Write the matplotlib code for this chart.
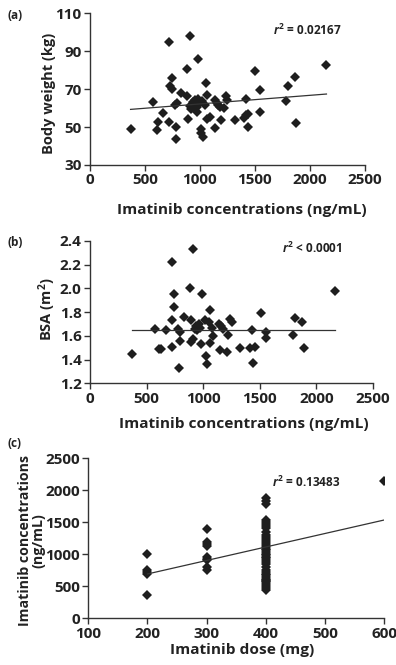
import numpy as np
import matplotlib
matplotlib.use("Agg")
import matplotlib.pyplot as plt

plt.rcParams['font.family'] = ['Open Sans', 'DejaVu Sans']
plt.rcParams['mathtext.fontset'] = 'custom'
plt.rcParams['mathtext.it'] = 'Open Sans:italic:bold'
plt.rcParams['mathtext.rm'] = 'Open Sans:bold'
plt.rcParams['mathtext.bf'] = 'Open Sans:bold'

# ---------------- data ----------------
conc_a = [370, 570, 667, 621, 606, 721, 743, 727, 743, 721, 782, 782, 773, 788, 827,
          879, 909, 985, 879, 888, 1055, 909, 918, 939, 955, 970, 985, 1000, 976, 1024,
          1067, 1045, 1015, 1015, 1030, 1067, 1091, 1136, 1152, 1167, 1182, 1218, 1236,
          1248, 1136, 1197, 1318, 1418, 1400, 1424, 1440, 1439, 1500, 1545, 1545, 1782,
          1803, 1864, 1879, 2152]
weight_a = [48.8, 63.4, 57.3, 52.5, 48.4, 94.9, 75.7, 71.7, 70.3, 52.8, 50.2, 43.7, 61.6,
            62.9, 68.1, 80.8, 98.0, 85.7, 66.4, 54.1, 73.1, 61.1, 59.4, 63.4, 64.3, 60.4,
            64.8, 63.4, 58.1, 63.9, 66.9, 61.6, 48.8, 46.7, 44.6, 54.1, 55.5, 64.3, 62.5,
            61.6, 60.4, 59.9, 66.4, 64.3, 49.7, 53.7, 53.7, 64.8, 54.8, 56.4, 57.0, 50.2,
            79.7, 69.5, 58.0, 63.9, 71.6, 76.5, 51.9, 82.5]

conc_b = [368, 574, 612, 626, 671, 721, 726, 729, 741, 744, 779, 794, 794, 788, 829,
          882, 891, 897, 906, 912, 930, 940, 950, 960, 970, 979, 988, 1015, 1021, 1035,
          1050, 1059, 1059, 1079, 1091, 1141, 1147, 1162, 1176, 1221, 1215, 1235, 1256,
          1329, 1418, 1432, 1441, 1456, 1515, 1559, 1553, 1794, 1809, 1874, 1891, 2165]
bsa_b = [1.45, 1.66, 1.49, 1.49, 1.65, 2.22, 1.73, 1.51, 1.95, 1.84, 1.66, 1.63, 1.56,
         1.33, 1.76, 2.00, 1.73, 1.55, 2.33, 1.57, 1.66, 1.68, 1.65, 1.70, 1.67, 1.53,
         1.95, 1.73, 1.43, 1.36, 1.72, 1.82, 1.54, 1.67, 1.60, 1.70, 1.48, 1.68, 1.66,
         1.61, 1.46, 1.74, 1.72, 1.50, 1.50, 1.65, 1.37, 1.51, 1.79, 1.63, 1.58, 1.61,
         1.75, 1.72, 1.50, 1.98]

dose_c = ([200] * 5 + [300] * 9 + [400] * 40 + [600])
conc_c = ([1000, 760, 730, 700, 360] +
          [1400, 1200, 1160, 1130, 960, 930, 910, 800, 760] +
          [1880, 1840, 1790, 1540, 1500, 1470, 1440, 1410, 1350, 1300, 1270, 1240, 1210,
           1180, 1150, 1120, 1090, 1060, 1040, 1010, 990, 960, 940, 910, 880, 850, 800,
           760, 730, 700, 680, 650, 620, 600, 580, 560, 530, 500, 470, 440] +
          [2150])

# regression lines as printed (slope, intercept)
fit_a = (0.004545, 57.62)
fit_b = (0.0, 1.65)
fit_c = (2.1075, 271.5)

r2_texts = ["= 0.02167", "< 0.0001", "= 0.13483"]

# ---------------- style helpers ----------------
MK = dict(marker='D', linestyle='none', markersize=4.9, color='#1e1e1e', markeredgewidth=0)
TXT = '#222222'
TICKFS = 11
XLABFS = 11.1
YLABFS = 10.5


def style(ax):
    for s in ['top', 'right']:
        ax.spines[s].set_visible(False)
    for s in ['left', 'bottom']:
        ax.spines[s].set_linewidth(1.0)
        ax.spines[s].set_color('#333333')
    ax.tick_params(direction='out', length=4, width=1.0, colors='#333333',
                   labelsize=TICKFS, labelcolor=TXT, pad=2)
    for lab in ax.get_xticklabels() + ax.get_yticklabels():
        lab.set_fontweight('bold')


def fitline(ax, x, fit):
    x = np.asarray(x, float)
    xs = np.array([x.min(), x.max()])
    ax.plot(xs, fit[0] * xs + fit[1], color='#333333', linewidth=0.9)


fig = plt.figure(figsize=(3.96, 6.65), dpi=100)

# ---- (a) ----
ax1 = fig.add_axes([0.227, 0.752, 0.694, 0.228])
ax1.plot(conc_a, weight_a, **MK)
fitline(ax1, conc_a, fit_a)
ax1.set_xlim(0, 2500)
ax1.set_ylim(30, 110)
ax1.set_xticks([0, 500, 1000, 1500, 2000, 2500])
ax1.set_yticks([30, 50, 70, 90, 110])
style(ax1)
ax1.set_ylabel('Body weight (kg)', fontsize=YLABFS, fontweight='bold', color=TXT, va='center')
ax1.yaxis.set_label_coords(-0.150, 0.471)
ax1.set_xlabel('Imatinib concentrations (ng/mL)', fontsize=XLABFS, fontweight='bold', color=TXT, va='center')
ax1.xaxis.set_label_coords(0.553, -0.30)
ax1.text(0.665, 0.89, r'$\mathit{r}^{2}$ ' + r2_texts[0], transform=ax1.transAxes,
         fontsize=8.5, fontweight='bold', color=TXT, va='center')

# ---- (b) ----
ax2 = fig.add_axes([0.227, 0.4236, 0.715, 0.214])
ax2.plot(conc_b, bsa_b, **MK)
fitline(ax2, conc_b, fit_b)
ax2.set_xlim(0, 2500)
ax2.set_ylim(1.2, 2.4)
ax2.set_xticks([0, 500, 1000, 1500, 2000, 2500])
ax2.set_yticks([1.2, 1.4, 1.6, 1.8, 2.0, 2.2, 2.4])
ax2.set_yticklabels(['1.2', '1.4', '1.6', '1.8', '2.0', '2.2', '2.4'])
style(ax2)
ax2.set_ylabel('BSA (m$^{\\mathbf{2}}$)', fontsize=YLABFS, fontweight='bold', color=TXT, va='center')
ax2.yaxis.set_label_coords(-0.150, 0.522)
ax2.set_xlabel('Imatinib concentrations (ng/mL)', fontsize=XLABFS, fontweight='bold', color=TXT, va='center')
ax2.xaxis.set_label_coords(0.544, -0.288)
ax2.text(0.678, 0.95, r'$\mathit{r}^{2}$ ' + r2_texts[1], transform=ax2.transAxes,
         fontsize=8.5, fontweight='bold', color=TXT, va='center')

# ---- (c) ----
ax3 = fig.add_axes([0.223, 0.0702, 0.747, 0.2406])
ax3.plot(dose_c, conc_c, **MK)
fitline(ax3, dose_c, fit_c)
ax3.set_xlim(100, 600)
ax3.set_ylim(0, 2500)
ax3.set_xticks([100, 200, 300, 400, 500, 600])
ax3.set_yticks([0, 500, 1000, 1500, 2000, 2500])
style(ax3)
ax3.set_ylabel('Imatinib concentrations\n(ng/mL)', fontsize=YLABFS - 0.3, fontweight='bold', color=TXT,
               linespacing=0.95, va='center')
ax3.yaxis.set_label_coords(-0.19, 0.485)
ax3.set_xlabel('Imatinib dose (mg)', fontsize=XLABFS, fontweight='bold', color=TXT, va='center')
ax3.xaxis.set_label_coords(0.521, -0.198)
ax3.text(0.62, 0.85, r'$\mathit{r}^{2}$ ' + r2_texts[2], transform=ax3.transAxes,
         fontsize=8.5, fontweight='bold', color=TXT, va='center')

for lbl, y in [('(a)', 0.977), ('(b)', 0.635), ('(c)', 0.333)]:
    fig.text(0.018, y, lbl, fontsize=8.5, fontweight='bold', color=TXT, va='center')

fig.savefig('out.png', dpi=100, facecolor='white')
